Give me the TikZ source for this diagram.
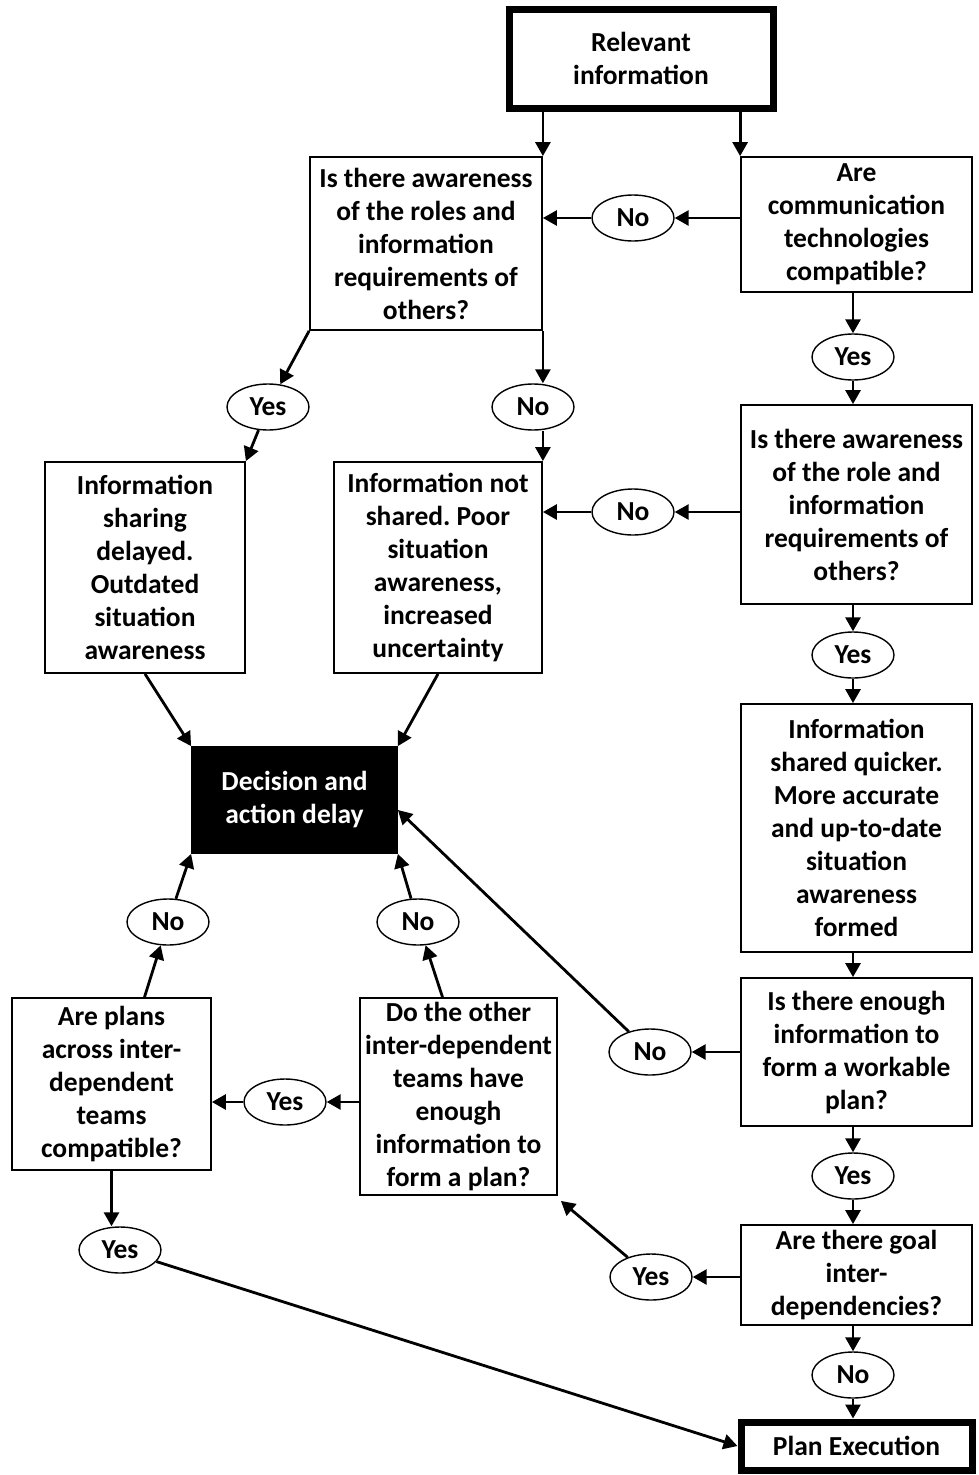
\documentclass[tikz,border=0pt]{standalone}
\usepackage{fontspec}
\setmainfont{Carlito}
\usetikzlibrary{arrows.meta,shapes.geometric,calc}
\frenchspacing
\begin{document}
\begin{tikzpicture}[x=1pt,y=-1pt,
  every node/.style={font=\fontsize{27.5}{33}\selectfont\bfseries, align=center},
  box/.style={draw, line width=1.8pt, inner sep=1pt},
  thickbox/.style={draw, line width=7pt, inner sep=1pt},
  blackbox/.style={draw, fill=black, text=white, line width=1.8pt},
  oval/.style={draw, ellipse, line width=1.4pt, minimum width=82, minimum height=46, inner sep=0pt},
  arr/.style={line width=2.8pt, -{Triangle[length=14pt,width=15pt]}},
  ln/.style={line width=2.8pt}]
\useasboundingbox (0,0) rectangle (978,1475);
% boxes
\node[thickbox, minimum width=264, minimum height=99] (RI) at (641,58.5) {Relevant\\information};
\node[box, minimum width=232, minimum height=173] (A1) at (426,243.5) {Is there awareness\\of the roles and\\information\\requirements of\\others?};
\node[box, minimum width=231, minimum height=135] (C1) at (856.5,224.5) {Are\\communication\\technologies\\compatible?};
\node[box, minimum width=231, minimum height=199] (B2) at (856.5,504.5) {Is there awareness\\of the role and\\information\\requirements of\\others?};
\node[box, minimum width=208, minimum height=211] (D2) at (438,567.5) {Information not\\shared. Poor\\situation\\awareness,\\increased\\uncertainty};
\node[box, minimum width=200, minimum height=211] (D1) at (145,567.5) {Information\\sharing\\delayed.\\Outdated\\situation\\awareness};
\node[blackbox, minimum width=205, minimum height=106] (DEC) at (294.5,800) {Decision and\\action delay};
\node[box, minimum width=231, minimum height=248] (IS) at (856.5,828) {Information\\shared quicker.\\More accurate\\and up-to-date\\situation\\awareness\\formed};
\node[box, minimum width=231, minimum height=148] (EN) at (856.5,1052) {Is there enough\\information to\\form a workable\\plan?};
\node[box, minimum width=199, minimum height=172] (PL) at (111.5,1084) {Are plans\\across inter-\\dependent\\teams\\compatible?};
\node[box, minimum width=197, minimum height=197] (DO) at (458.5,1096.5) {Do the other\\inter-dependent\\teams have\\enough\\information to\\form a plan?};
\node[box, minimum width=231, minimum height=100] (GO) at (856.5,1275) {Are there goal\\inter-\\dependencies?};
\node[thickbox, minimum width=231, minimum height=48] (PE) at (856.5,1446) {Plan Execution};
% ovals
\node[oval] (n1) at (633,218) {No};
\node[oval] (y1) at (853,357) {Yes};
\node[oval] (n2) at (633,512) {No};
\node[oval] (ya) at (268,407) {Yes};
\node[oval] (na) at (533,407) {No};
\node[oval] (y2) at (853,655) {Yes};
\node[oval] (nb) at (168,922) {No};
\node[oval] (nc) at (418,922) {No};
\node[oval] (ne) at (650,1052) {No};
\node[oval] (y3) at (853,1176) {Yes};
\node[oval] (yd) at (285,1102) {Yes};
\node[oval] (yg) at (651,1277) {Yes};
\node[oval] (yp) at (120,1250) {Yes};
\node[oval] (n3) at (853,1375) {No};
% connectors
\draw[arr] (A1.north east |- RI.south) -- (A1.north east);
\draw[arr] (C1.north west |- RI.south) -- (C1.north west);
\draw[arr] (n1 -| C1.west) -- (n1.east);
\draw[arr] (n1.west) -- (n1 -| A1.east);
\draw[arr] (y1.north |- C1.south) -- (y1.north);
\draw[arr] (y1.south) -- (y1.south |- B2.north);
\draw[arr] (n2 -| B2.west) -- (n2.east);
\draw[arr] (n2.west) -- (n2 -| D2.east);
\draw[arr] (A1.south west) -- (ya);
\draw[arr] (ya) -- (D1.north east);
\draw[arr] (A1.south east) -- (A1.south east |- na.north);
\draw[arr] (na.south -| D2.north east) -- (D2.north east);
\draw[arr] (D1.south) -- (DEC.north west);
\draw[arr] (D2.south) -- (DEC.north east);
\draw[arr] (y2.north |- B2.south) -- (y2.north);
\draw[arr] (y2.south) -- (y2.south |- IS.north);
\draw[arr] (y2.south |- IS.south) -- (y2.south |- EN.north);
\draw[arr] (ne -| EN.west) -- (ne.east);
\draw[arr] (ne) -- ($(DEC.east)+(0,10)$);
\draw[arr] (y3.north |- EN.south) -- (y3.north);
\draw[arr] (y3.south) -- (y3.south |- GO.north);
\draw[arr] (n3.north |- GO.south) -- (n3.north);
\draw[arr] (n3.south) -- (n3.south |- PE.north);
\draw[arr] (yg -| GO.west) -- (yg.east);
\draw[arr] (yg) -- ($(DO.south east)+(3,5)$);
\draw[arr] ($(PL.north)+(33,0)$) -- (nb);
\draw[arr] (nb) -- (DEC.south west);
\draw[arr] ($(DO.north)+(-16,0)$) -- (nc);
\draw[arr] (nc) -- (DEC.south east);
\draw[arr] (yd -| DO.west) -- (yd.east);
\draw[arr] (yd.west) -- (yd -| PL.east);
\draw[arr] (PL.south) -- (PL.south |- yp.north);
\draw[arr] (yp) -- (PE.west);
\end{tikzpicture}
\end{document}
